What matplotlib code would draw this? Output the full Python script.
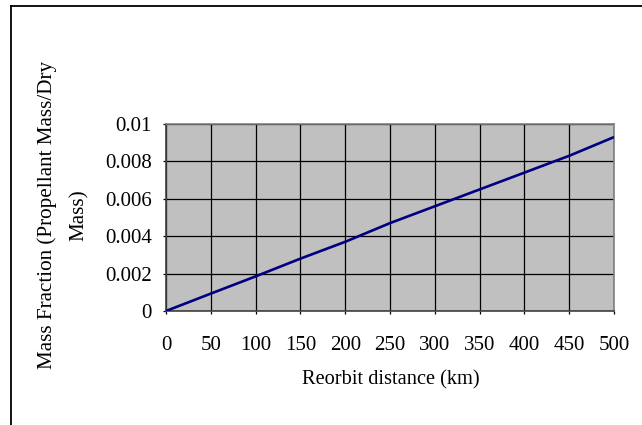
import matplotlib
matplotlib.use("Agg")
import matplotlib.pyplot as plt
from matplotlib.lines import Line2D

plt.rcParams['font.family'] = ['Liberation Serif', 'DejaVu Serif']

distance_km = [0, 50, 100, 150, 200, 250, 300, 350, 400, 450, 500]
mass_fraction = [0.0, 0.00093, 0.00185, 0.0028, 0.0037, 0.0047, 0.0056, 0.0065, 0.0074, 0.0083, 0.0093]
x_ticks = [0, 50, 100, 150, 200, 250, 300, 350, 400, 450, 500]
y_ticks = [0, 0.002, 0.004, 0.006, 0.008, 0.01]
y_tick_labels = ['0', '0.002', '0.004', '0.006', '0.008', '0.01']

W, H = 642, 425
fig = plt.figure(figsize=(W / 100, H / 100), dpi=100)
ax = fig.add_axes([166 / W, 1 - 311 / H, 448 / W, 187 / H])
ax.set_facecolor('#C0C0C0')

ax.plot(distance_km, mass_fraction, color='#000080', lw=1.9, solid_capstyle='butt', zorder=3)

ax.set_xlim(0, 500)
ax.set_ylim(0, 0.01)
ax.set_xticks(x_ticks)
ax.set_yticks(y_ticks)
ax.set_yticklabels(y_tick_labels)
ax.grid(True, color='black', lw=0.9)
ax.set_axisbelow(True)

ax.tick_params(axis='both', direction='out', length=2.2, width=0.9, color='black', labelsize=15)
ax.tick_params(axis='x', pad=15.5)
ax.tick_params(axis='y', pad=8)

for s in ['top', 'right']:
    ax.spines[s].set_color('#808080')
    ax.spines[s].set_linewidth(1.2)
for s in ['left', 'bottom']:
    ax.spines[s].set_color('#404040')
    ax.spines[s].set_linewidth(1.2)

ax.set_ylabel('Mass Fraction (Propellant Mass/Dry\nMass)', fontsize=15.2, linespacing=1.9)
ax.yaxis.set_label_coords((89 - 166) / 448, 0.515)

fig.text(391 / W, 1 - 380 / H, 'Reorbit distance (km)', ha='center', va='center', fontsize=14.7)

# outer chart border (top and left visible)
fig.add_artist(Line2D([11 / W, 1.0], [1 - 6 / H, 1 - 6 / H], color='black', lw=1.3, transform=fig.transFigure))
fig.add_artist(Line2D([11 / W, 11 / W], [0.0, 1 - 6 / H], color='black', lw=1.3, transform=fig.transFigure))

fig.savefig('out.png', dpi=100)
